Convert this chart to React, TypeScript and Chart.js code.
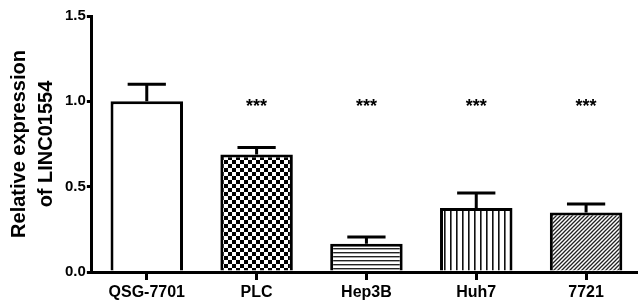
import React, { useEffect, useRef } from "react";
import { Chart, registerables } from "chart.js";

Chart.register(...registerables);

const categories = ["QSG-7701", "PLC", "Hep3B", "Huh7", "7721"];
const means = [1.0, 0.688, 0.166, 0.375, 0.349];
const errors = [0.1, 0.042, 0.039, 0.088, 0.049];
const sigLabels = ["", "***", "***", "***", "***"];
const sigLevel = 1.0;
const yTicks = [0, 0.5, 1.0, 1.5];

const FONT = "Arial, 'Liberation Sans', sans-serif";

function makePattern(kind: string): CanvasPattern | string {
  const c = document.createElement("canvas");
  const ctx = c.getContext("2d")!;
  if (kind === "white") return "#ffffff";
  if (kind === "checker") {
    c.width = 8; c.height = 8;
    ctx.fillStyle = "#fff"; ctx.fillRect(0, 0, 8, 8);
    ctx.fillStyle = "#000";
    ctx.fillRect(0, 0, 4, 4); ctx.fillRect(4, 4, 4, 4);
  } else if (kind === "hlines") {
    c.width = 4; c.height = 4;
    ctx.fillStyle = "#fff"; ctx.fillRect(0, 0, 4, 4);
    ctx.fillStyle = "#222";
    ctx.fillRect(0, 0, 4, 1.4);
  } else if (kind === "vlines") {
    c.width = 6; c.height = 6;
    ctx.fillStyle = "#fff"; ctx.fillRect(0, 0, 6, 6);
    ctx.fillStyle = "#111";
    ctx.fillRect(0, 0, 1.6, 6);
  } else if (kind === "diag") {
    const n = 4;
    c.width = n; c.height = n;
    ctx.fillStyle = "#fff"; ctx.fillRect(0, 0, n, n);
    ctx.strokeStyle = "#222"; ctx.lineWidth = 1.3;
    ctx.beginPath();
    ctx.moveTo(-1, n + 1); ctx.lineTo(n + 1, -1);
    ctx.moveTo(-1, 1); ctx.lineTo(1, -1);
    ctx.moveTo(n - 1, n + 1); ctx.lineTo(n + 1, n - 1);
    ctx.stroke();
  }
  return ctx.createPattern(c, "repeat")!;
}

const patternKinds = ["white", "checker", "hlines", "vlines", "diag"];

const errorBarPlugin = {
  id: "errorBars",
  afterDatasetsDraw(chart: any) {
    const ctx = chart.ctx;
    const meta = chart.getDatasetMeta(0);
    const y = chart.scales.y;
    ctx.save();
    ctx.strokeStyle = "#000";
    ctx.lineWidth = 3;
    meta.data.forEach((bar: any, i: number) => {
      const top = y.getPixelForValue(means[i]);
      const yErr = y.getPixelForValue(means[i] + errors[i]);
      const half = bar.width / 4 + 1;
      ctx.beginPath();
      ctx.moveTo(bar.x, top);
      ctx.lineTo(bar.x, yErr);
      ctx.moveTo(bar.x - half, yErr);
      ctx.lineTo(bar.x + half, yErr);
      ctx.stroke();
    });
    // significance labels
    ctx.fillStyle = "#000";
    ctx.font = `bold 18px ${FONT}`;
    ctx.textAlign = "center";
    ctx.textBaseline = "alphabetic";
    const ly = y.getPixelForValue(sigLevel) + 11;
    meta.data.forEach((bar: any, i: number) => {
      if (sigLabels[i]) ctx.fillText(sigLabels[i], bar.x, ly);
    });
    ctx.restore();
  },
};

export default function App() {
  const ref = useRef<HTMLCanvasElement | null>(null);
  useEffect(() => {
    if (!ref.current) return;
    const bg = patternKinds.map(makePattern);
    const chart = new Chart(ref.current, {
      type: "bar",
      data: {
        labels: categories,
        datasets: [
          {
            data: means,
            backgroundColor: bg as any,
            borderColor: "#000",
            borderWidth: 3,
            barPercentage: 0.66,
            categoryPercentage: 1,
          },
        ],
      },
      options: {
        animation: false,
        responsive: true,
        maintainAspectRatio: false,
        layout: { padding: { top: 16, right: 4, bottom: 0, left: 6 } },
        plugins: { legend: { display: false }, tooltip: { enabled: false } },
        scales: {
          x: {
            offset: true,
            grid: {
              offset: false,
              drawOnChartArea: false,
              drawTicks: true,
              tickLength: 8,
              color: "#000",
              lineWidth: 3,
            },
            border: { display: true, color: "#000", width: 3 },
            ticks: {
              color: "#000",
              padding: 5,
              font: { family: FONT, size: 16, weight: "bold", lineHeight: 1.0 },
            },
          },
          y: {
            min: 0,
            max: 1.5,
            afterBuildTicks: (axis: any) => {
              axis.ticks = yTicks.map((v) => ({ value: v }));
            },
            grid: {
              drawOnChartArea: false,
              drawTicks: true,
              tickLength: 5,
              color: "#000",
              lineWidth: 3,
            },
            border: { display: true, color: "#000", width: 3 },
            ticks: {
              color: "#000",
              padding: 1,
              font: { family: FONT, size: 15, weight: "bold" },
              callback: (v: any) => Number(v).toFixed(1),
            },
            title: {
              display: true,
              text: ["Relative expression", "of LINC01554"],
              color: "#000",
              font: { family: FONT, size: 20, weight: "bold", lineHeight: 1.35 },
              padding: { top: 0, bottom: 4 },
            },
          },
        },
      },
      plugins: [errorBarPlugin],
    });
    return () => chart.destroy();
  }, []);
  return (
    <div
      style={{
        position: "fixed",
        left: 0,
        top: 0,
        width: 638,
        height: 306,
        overflow: "hidden",
        background: "#fff",
      }}
    >
      <div style={{ position: "relative", width: 645, height: 306 }}>
        <canvas ref={ref} />
      </div>
    </div>
  );
}
